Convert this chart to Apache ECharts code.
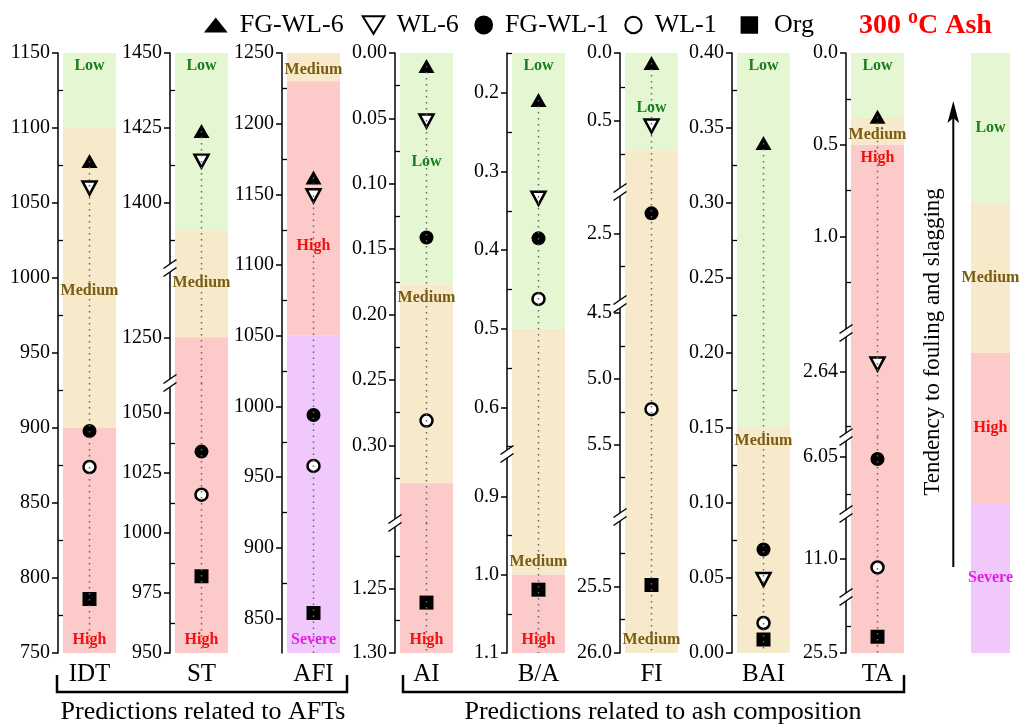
<!DOCTYPE html>
<html><head><meta charset="utf-8">
<script src="https://cdn.jsdelivr.net/npm/echarts@6/dist/echarts.min.js"></script>
<style>html,body{margin:0;padding:0;background:#fff}#c{width:1024px;height:724px}</style>
</head><body><div id="c"></div>
<script>
// ---------------- data ----------------
const categories = ['IDT','ST','AFI','AI','B/A','FI','BAI','TA'];
const seriesNames = ['FG-WL-6','WL-6','FG-WL-1','WL-1','Org'];
const fgwl6 = [1078, 1424, 1162, 0.010, 0.209, 0.074, 0.340, 0.347];
const wl6   = [1060, 1414, 1149, 0.052, 0.334, 0.54,  0.049, 2.60];
const fgwl1 = [898,  1034, 994,  0.141, 0.385, 2.35,  0.069, 6.06];
const wl1   = [874,  1016, 958,  0.281, 0.462, 5.23,  0.020, 11.05];
const org   = [786,  982,  854,  1.261, 1.019, 25.49, 0.009, 25.41];

// tick labels (major) and minor tick values
const ticksIDT = ['750','800','850','900','950','1000','1050','1100','1150'];
const minorIDT = [775,825,875,925,975,1025,1075,1125];
const ticksST = ['950','975','1000','1025','1050','1250','1400','1425','1450'];
const minorST = [962.5,987.5,1012.5,1037.5,1387.5,1412.5,1437.5];
const ticksAFI = ['850','900','950','1000','1050','1100','1150','1200','1250'];
const minorAFI = [875,925,975,1025,1075,1125,1175,1225];
const ticksAI = ['0.00','0.05','0.10','0.15','0.20','0.25','0.30','1.25','1.30'];
const minorAI = [0.025,0.075,0.125,0.175,0.225,0.275,0.325,1.225,1.275];
const ticksBA = ['0.2','0.3','0.4','0.5','0.6','0.9','1.0','1.1'];
const minorBA = [0.15,0.25,0.35,0.45,0.55,0.65,0.95,1.05];
const ticksFI = ['0.0','0.5','2.5','4.5','5.0','5.5','25.5','26.0'];
const minorFI = [0.25,0.75,2.75,4.75,5.25,5.75,25.25,25.75];
const ticksBAI = ['0.00','0.05','0.10','0.15','0.20','0.25','0.30','0.35','0.40'];
const minorBAI = [0.025,0.075,0.125,0.175,0.225,0.275,0.325,0.375];
const ticksTA = ['0.0','0.5','1.0','2.64','6.05','11.0','25.5'];
const minorTA = [0.25,0.75,1.25,2.94,6.25,25.35];

// axis segments (broken axes), listed top to bottom
const rangeIDT = [[750,1150]];
const rangeST  = [[1378.4,1450],[1234.8,1273.1],[950,1062.6]];
const rangeAFI = [[825.7,1250]];
const rangeAI  = [[0,0.3593],[1.1994,1.30]];
const rangeBA  = [[0.1492,0.6593],[0.8455,1.1]];
const rangeFI  = [[0,1.029],[2.19,3.03],[4.43,6.05],[24.98,26.0]];
const rangeBAI = [[0,0.40]];
const rangeTA  = [[0,1.525],[2.43,3.0],[5.94,6.36],[10.76,11.21],[25.19,25.5]];

// risk bands
const bandsIDT = [['Low',1100,1150],['Medium',900,1100],['High',750,900]];
const bandsST  = [['Low',1391,1450],['Medium',1250,1391],['High',950,1250]];
const bandsAFI = [['Medium',1230,1250],['High',1050,1230],['Severe',825.7,1050]];
const bandsAI  = [['Low',0,0.177],['Medium',0.177,0.329],['High',0.329,1.30]];
const bandsBA  = [['Low',0.1492,0.5],['Medium',0.5,1.0],['High',1.0,1.1]];
const bandsFI  = [['Low',0,0.72],['Medium',0.72,26.0]];
const bandsBAI = [['Low',0.15,0.40],['Medium',0,0.15]];
const bandsTA  = [['Low',0,0.35],['Medium',0.35,0.5],['High',0.5,25.5]];
const bandsLegend = ['Low','Medium','High','Severe'];

// ---------------- layout / style ----------------
const FONT = "'Liberation Serif','Times New Roman',serif";
const BANDCOL = {Low:'#e5f7d2', Medium:'#f7eacb', High:'#fdcaca', Severe:'#f0c8fb'};
const LABCOL = {Low:'#1b7d1b', Medium:'#7a5c12', High:'#f01010', Severe:'#e61ee6'};
const PANEL_LEFT = [63,175,287,400,512,625,737,851];
const PANEL_W = 53;
const SEG_PX = [[53,653],[53,268,383,653],[53,653],[53,523,653],[53,454,653],[53,192,304,517,653],[53,653],[53,333,437,514,597,653]];
const INVERSE = [false,false,false,true,true,true,false,true];
const BAND_LABEL = [
  [['insideTop',0],['inside',13],['insideBottom',0]],
  [['insideTop',0],['inside',34],['insideBottom',0]],
  [['inside',3],['inside',37],['insideBottom',0]],
  [['inside',-7],['insideTop',0],['insideBottom',0]],
  [['insideTop',0],['insideBottom',0],['insideBottom',0]],
  [['inside',6],['insideBottom',0]],
  [['insideTop',0],['insideTop',0]],
  [['insideTop',0],['inside',4],['insideTop',0]]
];
const SYM = [
  {symbol:'triangle', size:[16,14], rotate:0,   fill:'#000', bw:0},
  {symbol:'triangle', size:[14,13], rotate:180, fill:'#fff', bw:2.5},
  {symbol:'circle',   size:14,      rotate:0,   fill:'#000', bw:0},
  {symbol:'circle',   size:12,      rotate:0,   fill:'#fff', bw:2.5},
  {symbol:'rect',     size:14,      rotate:0,   fill:'#000', bw:0}
];
// legend item placement: [left, itemWidth, itemHeight, icon]
const LEGEND_ITEM = [
  [198.9, 37.8, 15, 'path://M0,12L9.5,0L19,12Z'],
  [356.7, 36.6, 17.5, 'path://M0,0L16,0L8,13Z'],
  [469.3, 32.4, 18.8, 'circle'],
  [619.3, 32.4, 16.3, 'circle'],
  [735.6, 39.4, 17.5, 'path://M0,0L14,0L14,14L0,14Z']
];

const TICKS = [ticksIDT,ticksST,ticksAFI,ticksAI,ticksBA,ticksFI,ticksBAI,ticksTA];
const MINORS = [minorIDT,minorST,minorAFI,minorAI,minorBA,minorFI,minorBAI,minorTA];
const RANGES = [rangeIDT,rangeST,rangeAFI,rangeAI,rangeBA,rangeFI,rangeBAI,rangeTA];
const BANDS = [bandsIDT,bandsST,bandsAFI,bandsAI,bandsBA,bandsFI,bandsBAI,bandsTA];
const VALUES = [fgwl6,wl6,fgwl1,wl1,org];
const EPS = 1e-9;

const grids=[], xAxes=[], yAxes=[], series=[], graphics=[];

categories.forEach((cat,p)=>{
  const segs = RANGES[p], px = SEG_PX[p], inv = INVERSE[p];
  const vals = VALUES.map(a=>a[p]);
  const topVal = inv ? Math.min(...vals) : Math.max(...vals);
  const labels = TICKS[p];
  const majorsAll = labels.map(Number);
  const pieces = BANDS[p].map(()=>[]);
  segs.forEach(([lo,hi],s)=>{
    BANDS[p].forEach(([name,a,b],bi)=>{
      const l2=Math.max(a,lo), h2=Math.min(b,hi);
      if(h2-l2>EPS) pieces[bi].push({s,lo:l2,hi:h2});
    });
  });
  const labelAt = BANDS[p].map((bd,bi)=>{
    const [pos,dy] = BAND_LABEL[p][bi];
    const pc = pieces[bi];
    const ch = pos==='insideBottom' ? pc[pc.length-1] : pc[0];
    return {s:ch.s,pos,dy};
  });
  segs.forEach(([lo,hi],s)=>{
    const g = grids.length;
    grids.push({left:PANEL_LEFT[p], width:PANEL_W, top:px[s], height:px[s+1]-px[s], containLabel:false, outerBoundsMode:'none'});
    xAxes.push({gridIndex:g, type:'category', data:[cat], boundaryGap:true,
      axisLine:{show:false}, axisTick:{show:false}, splitLine:{show:false},
      axisLabel:{show: s===segs.length-1, interval:0, margin:9, fontSize:25, fontFamily:FONT, color:'#000'}});
    const majors = majorsAll.filter(v=>v>=lo-EPS && v<=hi+EPS);
    const minors = MINORS[p].filter(v=>v>=lo-EPS && v<=hi+EPS);
    const yMain = yAxes.length;
    yAxes.push({gridIndex:g, type:'value', min:lo, max:hi, inverse:inv, position:'left', offset:5,
      axisLine:{show:true, onZero:false, lineStyle:{color:'#000', width:1.5}},
      axisTick:{show:true, inside:false, length:6, customValues:majors, lineStyle:{color:'#000', width:1.5}},
      axisLabel:{show:true, customValues:majors, margin:8, fontSize:20, fontFamily:FONT, color:'#000',
        showMinLabel:true, showMaxLabel:true,
        formatter:(v)=>{ const i = majorsAll.findIndex(m=>Math.abs(m-v)<1e-7); return i>=0 ? labels[i] : ''; }},
      splitLine:{show:false}, minorTick:{show:false}});
    yAxes.push({gridIndex:g, type:'value', min:lo, max:hi, inverse:inv, position:'left', offset:5,
      axisLine:{show:false, onZero:false},
      axisTick:{show:minors.length>0, inside:true, length:5, customValues:minors.length?minors:[lo], lineStyle:{color:'#000', width:1.3}},
      axisLabel:{show:false}, splitLine:{show:false}});
    // bands
    const areaData = [];
    BANDS[p].forEach(([name],bi)=>{
      pieces[bi].filter(pc=>pc.s===s).forEach(pc=>{
        const lab = labelAt[bi];
        areaData.push([{yAxis:pc.lo, itemStyle:{color:BANDCOL[name], opacity:1, borderWidth:0},
          label:{show: lab.s===s, formatter:name, position:lab.pos, offset:[0,lab.dy], distance:5,
            color:LABCOL[name], fontSize:16, fontWeight:'bold', fontFamily:FONT}},
          {yAxis:pc.hi}]);
      });
    });
    series.push({type:'line', xAxisIndex:g, yAxisIndex:yMain, data:[], silent:true, z:1,
      markArea:{silent:true, data:areaData}});
    // markers
    VALUES.forEach((arr,k)=>{
      const v = arr[p];
      const inSeg = v>=lo-EPS && v<=hi+EPS;
      const sy = SYM[k];
      series.push({type:'scatter', name:seriesNames[k], xAxisIndex:g, yAxisIndex:yMain,
        data: inSeg ? [[cat,v]] : [], symbol:sy.symbol, symbolSize:sy.size, symbolRotate:sy.rotate,
        itemStyle:{color:sy.fill, borderColor:'#000', borderWidth:sy.bw, opacity:1}, z:3, clip:false});
    });
    // dotted guide from top marker to axis bottom
    const segTop = inv ? lo : hi, segBot = inv ? hi : lo;
    const within = topVal>=lo-EPS && topVal<=hi+EPS;
    const above = inv ? topVal<lo : topVal>hi;
    if(within || above){
      series.push({type:'line', xAxisIndex:g, yAxisIndex:yMain, silent:true, z:4,
        data:[[cat, within?topVal:segTop],[cat, segBot]], symbol:'none', showSymbol:false,
        lineStyle:{color:'#666', width:1.5, type:[1.5,4.5]}});
    }
    // break marks
    if(s>0){
      const y0 = px[s], ax = PANEL_LEFT[p]-5;
      graphics.push({type:'rect', z:100, shape:{x:ax-2, y:y0-4, width:4, height:8}, style:{fill:'#fff'}});
      [-4,4].forEach(d=>graphics.push({type:'line', z:101,
        shape:{x1:ax-6.5, y1:y0+d+4.5, x2:ax+6.5, y2:y0+d-4.5}, style:{stroke:'#000', lineWidth:1.5}}));
    }
  });
});

// legend column on the right
{
  const g = grids.length;
  grids.push({left:971, width:39, top:53, height:600, containLabel:false, outerBoundsMode:'none'});
  xAxes.push({gridIndex:g, type:'category', data:[''], show:false});
  const yi = yAxes.length;
  yAxes.push({gridIndex:g, type:'value', min:0, max:bandsLegend.length, show:false});
  series.push({type:'line', xAxisIndex:g, yAxisIndex:yi, data:[], silent:true, z:1,
    markArea:{silent:true, data: bandsLegend.map((name,i)=>[
      {yAxis:bandsLegend.length-i-1, itemStyle:{color:BANDCOL[name], opacity:1},
       label:{show:true, formatter:name, position:'inside', color:LABCOL[name], fontSize:16, fontWeight:'bold', fontFamily:FONT}},
      {yAxis:bandsLegend.length-i}])}});
}

// decorations
graphics.push(
  {type:'text', x:859, y:8, z:100, style:{text:'{a|300 }{b|o}{a|C Ash}', rich:{
    a:{fontSize:28, fontWeight:'bold', fontFamily:FONT, fill:'#ff0000', lineHeight:32, verticalAlign:'bottom'},
    b:{fontSize:20, fontWeight:'bold', fontFamily:FONT, fill:'#ff0000', lineHeight:20, verticalAlign:'top'}}}},
  {type:'polyline', z:100, shape:{points:[[57,675],[57,692],[347,692],[347,675]]}, style:{stroke:'#000', lineWidth:2.5, fill:null}},
  {type:'polyline', z:100, shape:{points:[[403,675],[403,692],[904,692],[904,675]]}, style:{stroke:'#000', lineWidth:2.5, fill:null}},
  {type:'text', x:203, y:712, z:100, style:{text:'Predictions related to AFTs', align:'center', verticalAlign:'middle', fontSize:26, fontFamily:FONT, fill:'#000'}},
  {type:'text', x:663, y:712, z:100, style:{text:'Predictions related to ash composition', align:'center', verticalAlign:'middle', fontSize:26, fontFamily:FONT, fill:'#000'}},
  {type:'line', z:100, shape:{x1:953.3, y1:567, x2:953.3, y2:112}, style:{stroke:'#000', lineWidth:2}},
  {type:'polygon', z:100, shape:{points:[[953.3,101],[947.5,123],[953.3,118],[959.1,123]]}, style:{fill:'#000'}},
  {type:'text', x:933, y:342, rotation:Math.PI/2, z:100, style:{text:'Tendency to fouling and slagging', align:'center', verticalAlign:'middle', fontSize:23, fontFamily:FONT, fill:'#000'}}
);

const legends = seriesNames.map((name,k)=>{
  const [left, iw, ih, icon] = LEGEND_ITEM[k];
  return {top:7, left:left, itemWidth:iw, itemHeight:ih, selectedMode:false,
    textStyle:{fontSize:26, fontFamily:FONT, color:'#000'},
    data:[{name:name, icon:icon}]};
});

const chart = echarts.init(document.getElementById('c'), null, {renderer:'canvas'});
chart.setOption({
  animation:false,
  backgroundColor:'#fff',
  legend:legends,
  grid:grids, xAxis:xAxes, yAxis:yAxes, series:series, graphic:graphics
});
</script></body></html>
